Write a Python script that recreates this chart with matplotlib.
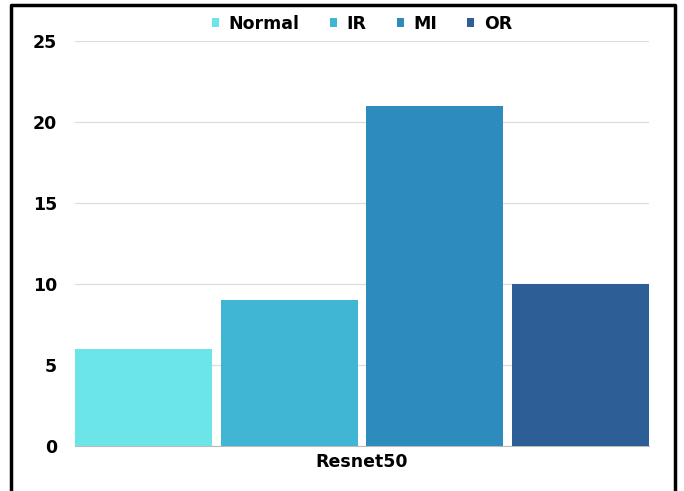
import matplotlib.pyplot as plt
from matplotlib.lines import Line2D
import numpy as np

plt.rcParams['font.family'] = ['DejaVu Sans']

group = "Resnet50"
classes = ["Normal", "IR", "MI", "OR"]
counts = [6, 9, 21, 10]
colors = ["#6ce5e8", "#41b6d4", "#2e8cbc", "#2d5f96"]

W, H = 684, 491
fig = plt.figure(figsize=(W / 100, H / 100), dpi=100)
ax = fig.add_axes([75 / W, 1 - 446 / H, 574 / W, 405 / H])

x = np.arange(len(classes))
for xi, val, col, name in zip(x, counts, colors, classes):
    ax.bar(xi, val, width=0.94, color=col, label=name, zorder=3)

ax.set_xlim(-0.47, len(classes) - 0.53)
ax.set_ylim(0, 25)
ax.set_yticks([0, 5, 10, 15, 20, 25])
ax.yaxis.grid(True, color="#dddddd", linewidth=0.9, zorder=0)
ax.set_xticks([(len(classes) - 1) / 2])
ax.set_xticklabels([group])
for s in ["top", "right", "left"]:
    ax.spines[s].set_visible(False)
ax.spines["bottom"].set_color("#bbbbbb")
ax.tick_params(axis="both", length=0, labelsize=12.5)
ax.tick_params(axis="y", pad=13)
ax.tick_params(axis="x", pad=5)
for lab in ax.get_xticklabels() + ax.get_yticklabels():
    lab.set_fontweight("bold")

leg = ax.legend(loc="center", bbox_to_anchor=(0.5, 1 + 17 / 405), ncol=4, frameon=False,
                handlelength=0.4, handleheight=0.4, handletextpad=0.55, columnspacing=1.75,
                prop={"weight": "bold", "size": 12.5}, borderaxespad=0, borderpad=0)

# frame around the figure (open at the bottom)
bx0, bx1, by = 11 / W, 675 / W, 1 - 5 / H
fig.add_artist(Line2D([bx0, bx0, bx1, bx1], [0, by, by, 0], color="black",
                      linewidth=2.5, transform=fig.transFigure))

fig.savefig("out.png", dpi=100)
